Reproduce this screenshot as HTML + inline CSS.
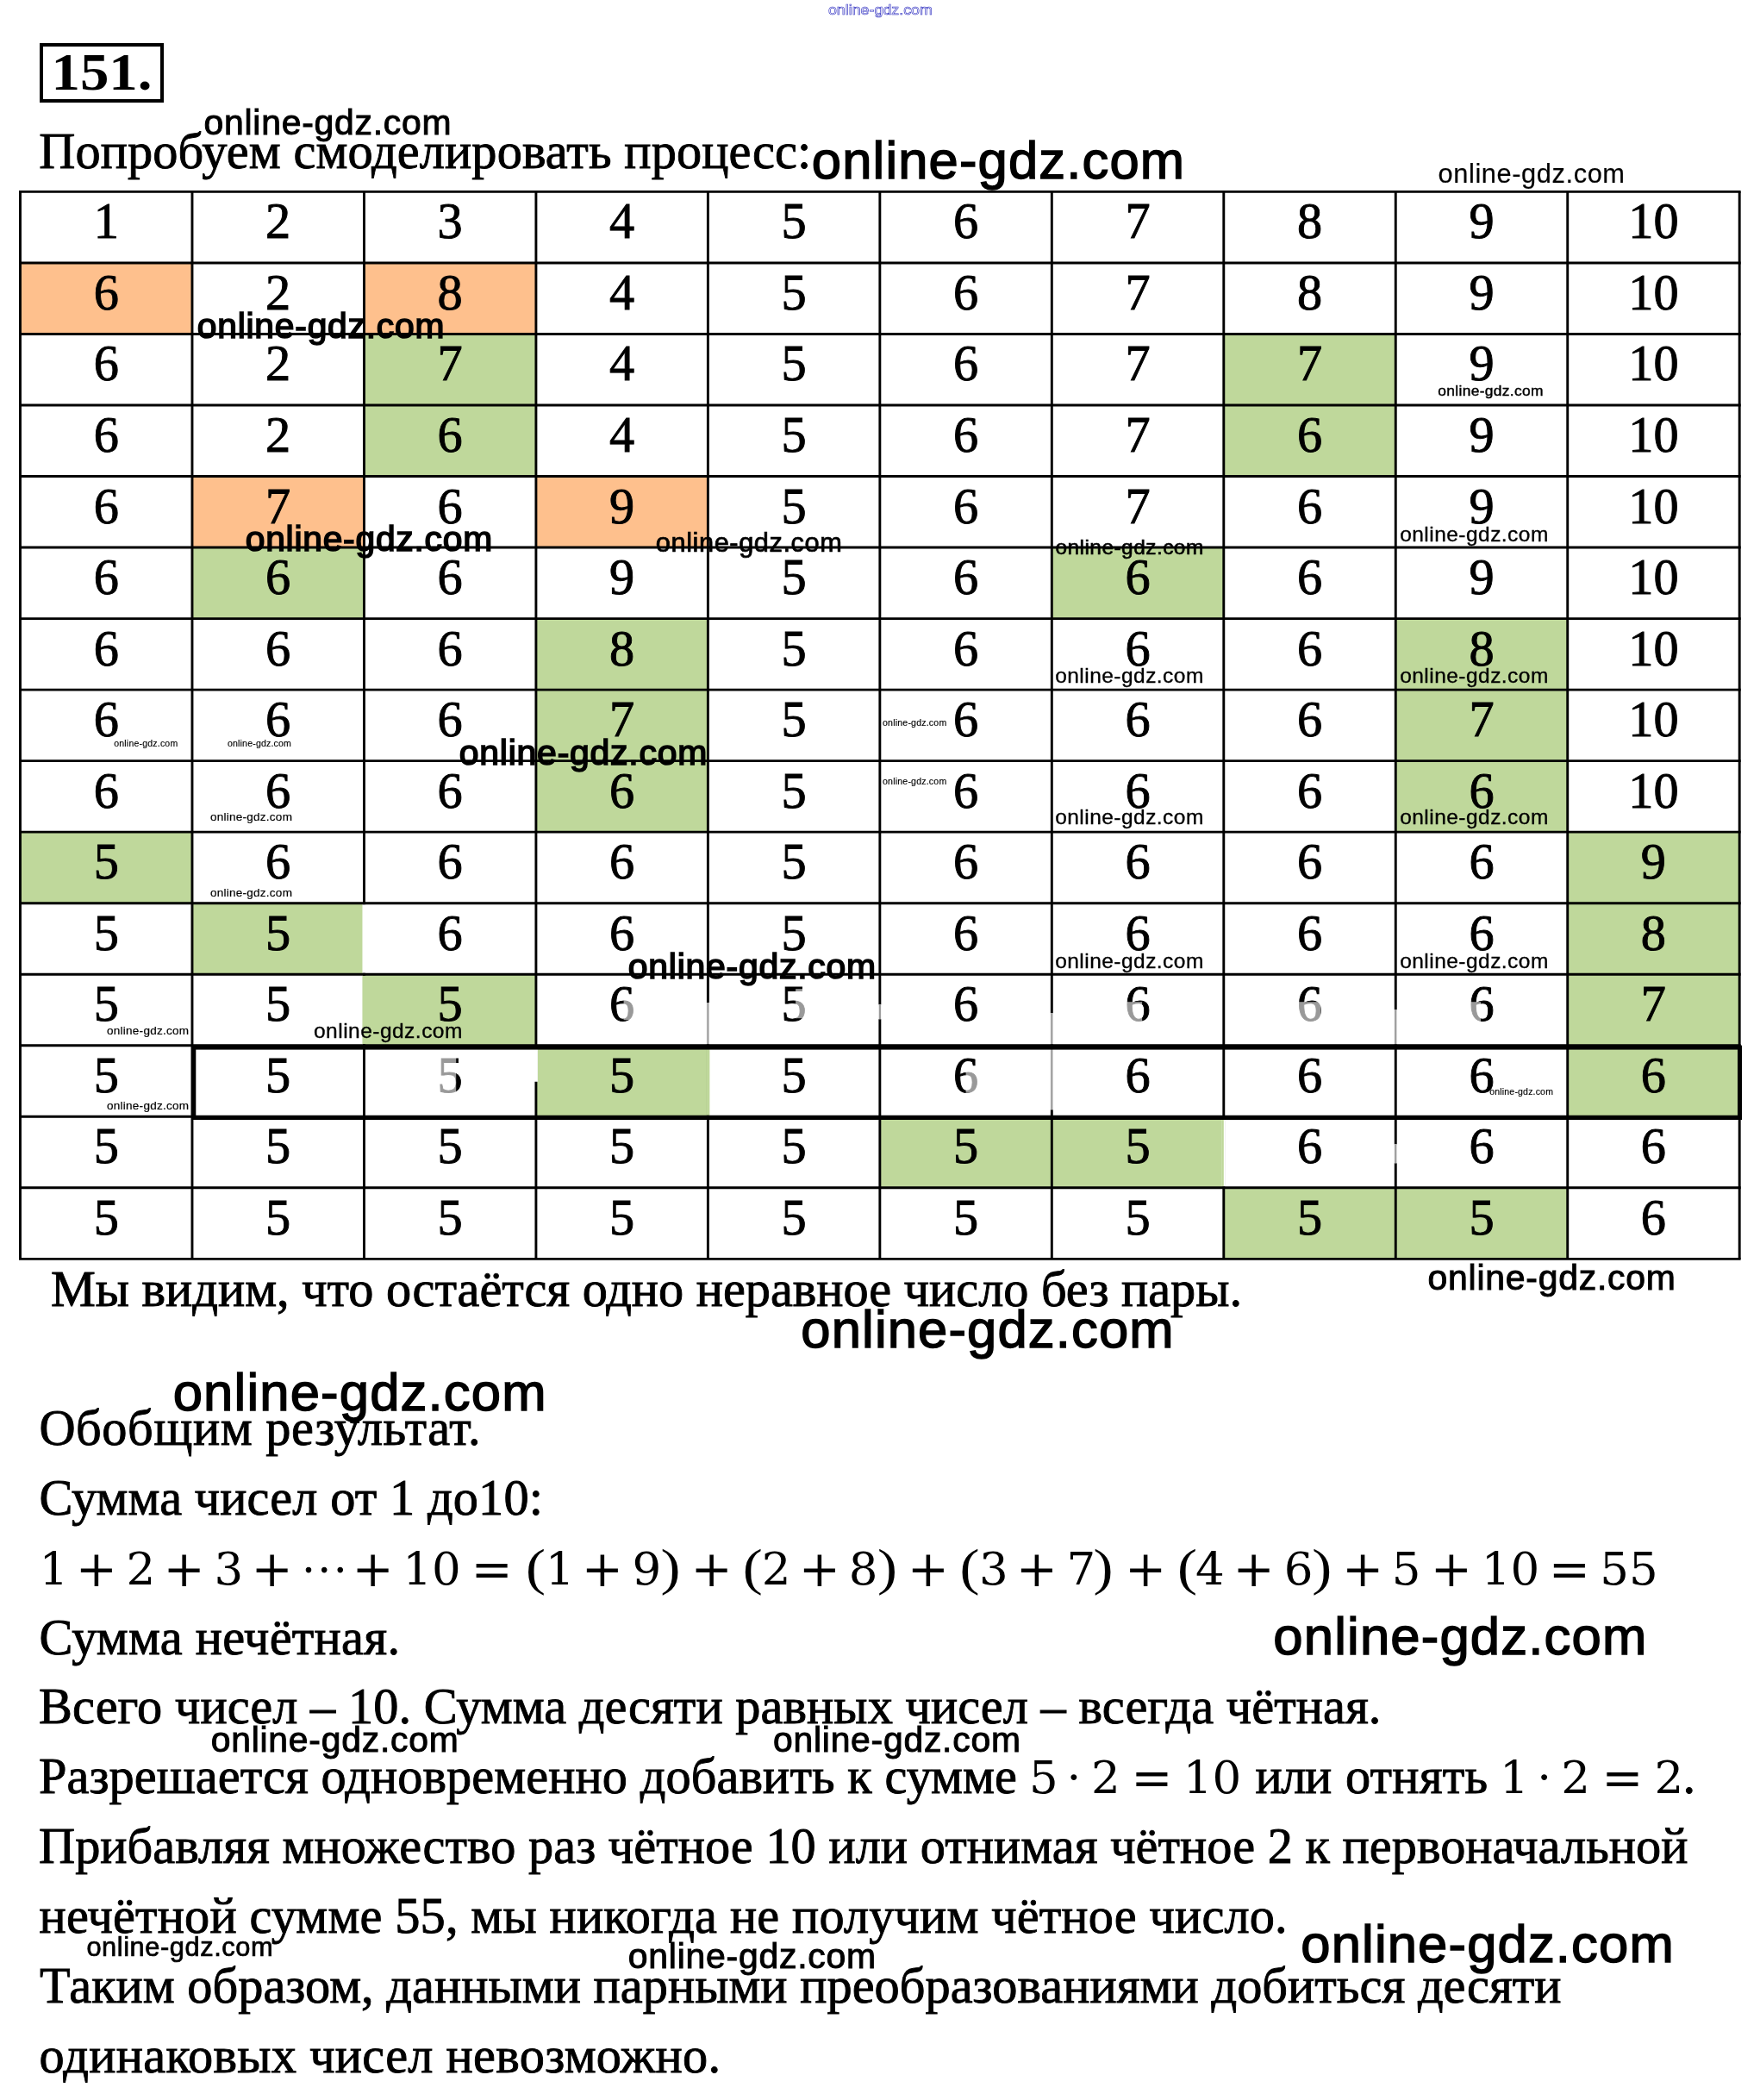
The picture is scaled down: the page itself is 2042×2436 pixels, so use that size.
<!DOCTYPE html>
<html lang="ru"><head><meta charset="utf-8"><title>151</title>
<style>
html,body{margin:0;padding:0;background:#fff}
body{width:2042px;height:2436px;overflow:hidden}
svg{display:block;will-change:transform}
.t{font-family:"Liberation Serif","DejaVu Serif",serif;font-size:58.33px;fill:#000;stroke:#000;stroke-width:0.9px}
.d{font-family:"Liberation Serif","DejaVu Serif",serif;font-size:58.33px;fill:#000;stroke:#000;stroke-width:0.9px;text-anchor:middle}
.m{font-family:"DejaVu Serif","Liberation Serif",serif;fill:#000;text-anchor:middle}
.w{font-family:"Liberation Sans","DejaVu Sans",sans-serif;fill:#000;stroke:#000}
.g{stroke:#000;stroke-width:2.9;fill:none}
</style></head><body>
<svg width="2042" height="2436" viewBox="0 0 2042 2436">
<rect width="2042" height="2436" fill="#fff"/>
<rect x="48" y="52" width="140" height="65" fill="none" stroke="#000" stroke-width="4"/>
<text x="59.5" y="104.4" textLength="117" lengthAdjust="spacingAndGlyphs" style="font-family:'Liberation Serif',serif;font-weight:bold;font-size:60.6px">151.</text>
<rect x="23.50" y="304.93" width="199.47" height="82.53" fill="#FEC08D"/>
<rect x="422.44" y="304.93" width="199.47" height="82.53" fill="#FEC08D"/>
<rect x="422.44" y="387.46" width="199.47" height="82.53" fill="#BFD89B"/>
<rect x="1419.79" y="387.46" width="199.47" height="82.53" fill="#BFD89B"/>
<rect x="422.44" y="469.99" width="199.47" height="82.53" fill="#BFD89B"/>
<rect x="1419.79" y="469.99" width="199.47" height="82.53" fill="#BFD89B"/>
<rect x="222.97" y="552.52" width="199.47" height="82.53" fill="#FEC08D"/>
<rect x="621.91" y="552.52" width="199.47" height="82.53" fill="#FEC08D"/>
<rect x="222.97" y="635.05" width="199.47" height="82.53" fill="#BFD89B"/>
<rect x="1220.32" y="635.05" width="199.47" height="82.53" fill="#BFD89B"/>
<rect x="621.91" y="717.58" width="199.47" height="82.53" fill="#BFD89B"/>
<rect x="1619.26" y="717.58" width="199.47" height="82.53" fill="#BFD89B"/>
<rect x="621.91" y="800.11" width="199.47" height="82.53" fill="#BFD89B"/>
<rect x="1619.26" y="800.11" width="199.47" height="82.53" fill="#BFD89B"/>
<rect x="621.91" y="882.64" width="199.47" height="82.53" fill="#BFD89B"/>
<rect x="1619.26" y="882.64" width="199.47" height="82.53" fill="#BFD89B"/>
<rect x="23.50" y="965.17" width="199.47" height="82.53" fill="#BFD89B"/>
<rect x="1818.73" y="965.17" width="199.47" height="82.53" fill="#BFD89B"/>
<rect x="222.97" y="1047.70" width="199.47" height="82.53" fill="#BFD89B"/>
<rect x="1818.73" y="1047.70" width="199.47" height="82.53" fill="#BFD89B"/>
<rect x="422.44" y="1130.23" width="199.47" height="82.53" fill="#BFD89B"/>
<rect x="1818.73" y="1130.23" width="199.47" height="82.53" fill="#BFD89B"/>
<rect x="621.91" y="1212.76" width="199.47" height="82.53" fill="#BFD89B"/>
<rect x="1818.73" y="1212.76" width="199.47" height="82.53" fill="#BFD89B"/>
<rect x="1020.85" y="1295.29" width="199.47" height="82.53" fill="#BFD89B"/>
<rect x="1220.32" y="1295.29" width="199.47" height="82.53" fill="#BFD89B"/>
<rect x="1419.79" y="1377.82" width="199.47" height="82.53" fill="#BFD89B"/>
<rect x="1619.26" y="1377.82" width="199.47" height="82.53" fill="#BFD89B"/>
<path class="g" d="M23.50 222.40V1460.35M222.97 222.40V1460.35M422.44 222.40V1460.35M621.91 222.40V1460.35M821.38 222.40V1460.35M1020.85 222.40V1460.35M1220.32 222.40V1460.35M1419.79 222.40V1460.35M1619.26 222.40V1460.35M1818.73 222.40V1460.35M2018.20 222.40V1460.35"/>
<rect x="420.44" y="1049.20" width="4.00" height="79.53" fill="#fff"/>
<rect x="420.44" y="1131.73" width="4.00" height="79.53" fill="#BFD89B"/>
<rect x="619.91" y="1215.76" width="4.00" height="39.00" fill="#fff"/>
<rect x="819.38" y="1163.23" width="4.00" height="48.03" fill="#fff"/>
<rect x="820.28" y="1163.23" width="2.2" height="48.03" fill="#9a9a9a"/>
<rect x="819.38" y="1215.76" width="4.00" height="78.03" fill="#BFD89B"/>
<rect x="1218.32" y="1175.23" width="4.00" height="36.03" fill="#fff"/>
<rect x="1219.22" y="1175.23" width="2.2" height="36.03" fill="#9a9a9a"/>
<rect x="1218.32" y="1215.76" width="4.00" height="71.53" fill="#fff"/>
<rect x="1219.22" y="1215.76" width="2.2" height="71.53" fill="#9a9a9a"/>
<rect x="1018.85" y="1165.23" width="4.00" height="17.00" fill="#fff"/>
<rect x="1019.75" y="1165.23" width="2.2" height="17.00" fill="#9a9a9a"/>
<rect x="1417.79" y="1298.29" width="4.00" height="78.03" fill="#fff"/>
<rect x="1417.79" y="1298.29" width="2" height="78.03" fill="#BFD89B"/>
<rect x="1617.26" y="1171.23" width="4.00" height="40.03" fill="#fff"/>
<rect x="1618.16" y="1171.23" width="2.2" height="40.03" fill="#9a9a9a"/>
<rect x="1617.26" y="1327.29" width="4.00" height="22.00" fill="#fff"/>
<rect x="1618.16" y="1327.29" width="2.2" height="22.00" fill="#9a9a9a"/>
<path class="g" d="M22.05 222.40H2019.65M22.05 304.93H2019.65M22.05 387.46H2019.65M22.05 469.99H2019.65M22.05 552.52H2019.65M22.05 635.05H2019.65M22.05 717.58H2019.65M22.05 800.11H2019.65M22.05 882.64H2019.65M22.05 965.17H2019.65M22.05 1047.70H2019.65M22.05 1130.23H2019.65M22.05 1212.76H2019.65M22.05 1295.29H2019.65M22.05 1377.82H2019.65M22.05 1460.35H2019.65"/>
<rect x="224.8" y="1215.1" width="1793.7" height="81.4" fill="none" stroke="#000" stroke-width="5"/>
<text class="d" x="123.23" y="276.40">1</text>
<text class="d" x="322.70" y="276.40">2</text>
<text class="d" x="522.17" y="276.40">3</text>
<text class="d" x="721.64" y="276.40">4</text>
<text class="d" x="921.12" y="276.40">5</text>
<text class="d" x="1120.59" y="276.40">6</text>
<text class="d" x="1320.05" y="276.40">7</text>
<text class="d" x="1519.52" y="276.40">8</text>
<text class="d" x="1718.99" y="276.40">9</text>
<text class="d" x="1918.46" y="276.40">10</text>
<text class="d" x="123.23" y="358.93">6</text>
<text class="d" x="322.70" y="358.93">2</text>
<text class="d" x="522.17" y="358.93">8</text>
<text class="d" x="721.64" y="358.93">4</text>
<text class="d" x="921.12" y="358.93">5</text>
<text class="d" x="1120.59" y="358.93">6</text>
<text class="d" x="1320.05" y="358.93">7</text>
<text class="d" x="1519.52" y="358.93">8</text>
<text class="d" x="1718.99" y="358.93">9</text>
<text class="d" x="1918.46" y="358.93">10</text>
<text class="d" x="123.23" y="441.46">6</text>
<text class="d" x="322.70" y="441.46">2</text>
<text class="d" x="522.17" y="441.46">7</text>
<text class="d" x="721.64" y="441.46">4</text>
<text class="d" x="921.12" y="441.46">5</text>
<text class="d" x="1120.59" y="441.46">6</text>
<text class="d" x="1320.05" y="441.46">7</text>
<text class="d" x="1519.52" y="441.46">7</text>
<text class="d" x="1718.99" y="441.46">9</text>
<text class="d" x="1918.46" y="441.46">10</text>
<text class="d" x="123.23" y="523.99">6</text>
<text class="d" x="322.70" y="523.99">2</text>
<text class="d" x="522.17" y="523.99">6</text>
<text class="d" x="721.64" y="523.99">4</text>
<text class="d" x="921.12" y="523.99">5</text>
<text class="d" x="1120.59" y="523.99">6</text>
<text class="d" x="1320.05" y="523.99">7</text>
<text class="d" x="1519.52" y="523.99">6</text>
<text class="d" x="1718.99" y="523.99">9</text>
<text class="d" x="1918.46" y="523.99">10</text>
<text class="d" x="123.23" y="606.52">6</text>
<text class="d" x="322.70" y="606.52">7</text>
<text class="d" x="522.17" y="606.52">6</text>
<text class="d" x="721.64" y="606.52">9</text>
<text class="d" x="921.12" y="606.52">5</text>
<text class="d" x="1120.59" y="606.52">6</text>
<text class="d" x="1320.05" y="606.52">7</text>
<text class="d" x="1519.52" y="606.52">6</text>
<text class="d" x="1718.99" y="606.52">9</text>
<text class="d" x="1918.46" y="606.52">10</text>
<text class="d" x="123.23" y="689.05">6</text>
<text class="d" x="322.70" y="689.05">6</text>
<text class="d" x="522.17" y="689.05">6</text>
<text class="d" x="721.64" y="689.05">9</text>
<text class="d" x="921.12" y="689.05">5</text>
<text class="d" x="1120.59" y="689.05">6</text>
<text class="d" x="1320.05" y="689.05">6</text>
<text class="d" x="1519.52" y="689.05">6</text>
<text class="d" x="1718.99" y="689.05">9</text>
<text class="d" x="1918.46" y="689.05">10</text>
<text class="d" x="123.23" y="771.58">6</text>
<text class="d" x="322.70" y="771.58">6</text>
<text class="d" x="522.17" y="771.58">6</text>
<text class="d" x="721.64" y="771.58">8</text>
<text class="d" x="921.12" y="771.58">5</text>
<text class="d" x="1120.59" y="771.58">6</text>
<text class="d" x="1320.05" y="771.58">6</text>
<text class="d" x="1519.52" y="771.58">6</text>
<text class="d" x="1718.99" y="771.58">8</text>
<text class="d" x="1918.46" y="771.58">10</text>
<text class="d" x="123.23" y="854.11">6</text>
<text class="d" x="322.70" y="854.11">6</text>
<text class="d" x="522.17" y="854.11">6</text>
<text class="d" x="721.64" y="854.11">7</text>
<text class="d" x="921.12" y="854.11">5</text>
<text class="d" x="1120.59" y="854.11">6</text>
<text class="d" x="1320.05" y="854.11">6</text>
<text class="d" x="1519.52" y="854.11">6</text>
<text class="d" x="1718.99" y="854.11">7</text>
<text class="d" x="1918.46" y="854.11">10</text>
<text class="d" x="123.23" y="936.64">6</text>
<text class="d" x="322.70" y="936.64">6</text>
<text class="d" x="522.17" y="936.64">6</text>
<text class="d" x="721.64" y="936.64">6</text>
<text class="d" x="921.12" y="936.64">5</text>
<text class="d" x="1120.59" y="936.64">6</text>
<text class="d" x="1320.05" y="936.64">6</text>
<text class="d" x="1519.52" y="936.64">6</text>
<text class="d" x="1718.99" y="936.64">6</text>
<text class="d" x="1918.46" y="936.64">10</text>
<text class="d" x="123.23" y="1019.17">5</text>
<text class="d" x="322.70" y="1019.17">6</text>
<text class="d" x="522.17" y="1019.17">6</text>
<text class="d" x="721.64" y="1019.17">6</text>
<text class="d" x="921.12" y="1019.17">5</text>
<text class="d" x="1120.59" y="1019.17">6</text>
<text class="d" x="1320.05" y="1019.17">6</text>
<text class="d" x="1519.52" y="1019.17">6</text>
<text class="d" x="1718.99" y="1019.17">6</text>
<text class="d" x="1918.46" y="1019.17">9</text>
<text class="d" x="123.23" y="1101.70">5</text>
<text class="d" x="322.70" y="1101.70">5</text>
<text class="d" x="522.17" y="1101.70">6</text>
<text class="d" x="721.64" y="1101.70">6</text>
<text class="d" x="921.12" y="1101.70">5</text>
<text class="d" x="1120.59" y="1101.70">6</text>
<text class="d" x="1320.05" y="1101.70">6</text>
<text class="d" x="1519.52" y="1101.70">6</text>
<text class="d" x="1718.99" y="1101.70">6</text>
<text class="d" x="1918.46" y="1101.70">8</text>
<text class="d" x="123.23" y="1184.23">5</text>
<text class="d" x="322.70" y="1184.23">5</text>
<text class="d" x="522.17" y="1184.23">5</text>
<text class="d" x="721.64" y="1184.23">6</text>
<text class="d" x="921.12" y="1184.23">5</text>
<text class="d" x="1120.59" y="1184.23">6</text>
<text class="d" x="1320.05" y="1184.23">6</text>
<text class="d" x="1519.52" y="1184.23">6</text>
<text class="d" x="1718.99" y="1184.23">6</text>
<text class="d" x="1918.46" y="1184.23">7</text>
<text class="d" x="123.23" y="1266.76">5</text>
<text class="d" x="322.70" y="1266.76">5</text>
<text class="d" x="522.17" y="1266.76">5</text>
<text class="d" x="721.64" y="1266.76">5</text>
<text class="d" x="921.12" y="1266.76">5</text>
<text class="d" x="1120.59" y="1266.76">6</text>
<text class="d" x="1320.05" y="1266.76">6</text>
<text class="d" x="1519.52" y="1266.76">6</text>
<text class="d" x="1718.99" y="1266.76">6</text>
<text class="d" x="1918.46" y="1266.76">6</text>
<text class="d" x="123.23" y="1349.29">5</text>
<text class="d" x="322.70" y="1349.29">5</text>
<text class="d" x="522.17" y="1349.29">5</text>
<text class="d" x="721.64" y="1349.29">5</text>
<text class="d" x="921.12" y="1349.29">5</text>
<text class="d" x="1120.59" y="1349.29">5</text>
<text class="d" x="1320.05" y="1349.29">5</text>
<text class="d" x="1519.52" y="1349.29">6</text>
<text class="d" x="1718.99" y="1349.29">6</text>
<text class="d" x="1918.46" y="1349.29">6</text>
<text class="d" x="123.23" y="1431.82">5</text>
<text class="d" x="322.70" y="1431.82">5</text>
<text class="d" x="522.17" y="1431.82">5</text>
<text class="d" x="721.64" y="1431.82">5</text>
<text class="d" x="921.12" y="1431.82">5</text>
<text class="d" x="1120.59" y="1431.82">5</text>
<text class="d" x="1320.05" y="1431.82">5</text>
<text class="d" x="1519.52" y="1431.82">5</text>
<text class="d" x="1718.99" y="1431.82">5</text>
<text class="d" x="1918.46" y="1431.82">6</text>
<rect x="723.6" y="1160.2" width="13.0" height="23.0" fill="#fff" fill-opacity="0.60"/>
<rect x="923.1" y="1147.2" width="13.0" height="34.0" fill="#fff" fill-opacity="0.60"/>
<rect x="1307.1" y="1162.2" width="18.0" height="23.0" fill="#fff" fill-opacity="0.60"/>
<rect x="1506.5" y="1162.2" width="26.0" height="23.0" fill="#fff" fill-opacity="0.60"/>
<rect x="1705.0" y="1162.2" width="13.0" height="23.0" fill="#fff" fill-opacity="0.60"/>
<rect x="509.2" y="1226.8" width="20.0" height="42.0" fill="#fff" fill-opacity="0.60"/>
<rect x="1120.6" y="1236.8" width="15.0" height="31.0" fill="#fff" fill-opacity="0.60"/>
<text class="t" x="45.2" y="194.5" textLength="896.0">Попробуем смоделировать процесс:</text>
<text class="t" x="59.0" y="1515.3" textLength="1382.0">Мы видим, что остаётся одно неравное число без пары.</text>
<text class="t" x="45.4" y="1676.0" textLength="512.2">Обобщим результат.</text>
<text class="t" x="45.4" y="1756.9" textLength="584.5">Сумма чисел от 1 до10:</text>
<text class="t" x="45.4" y="1918.6" textLength="418.6">Сумма нечётная.</text>
<text class="t" x="45.0" y="1999.4" textLength="1557.4">Всего чисел – 10. Сумма десяти равных чисел – всегда чётная.</text>
<text class="t" x="45.0" y="2080.3" textLength="1135.0">Разрешается одновременно добавить к сумме</text>
<text class="t" x="45.0" y="2161.2" textLength="1913.5">Прибавляя множество раз чётное 10 или отнимая чётное 2 к первоначальной</text>
<text class="t" x="45.6" y="2242.0" textLength="1448.0">нечётной сумме 55, мы никогда не получим чётное число.</text>
<text class="t" x="46.0" y="2322.9" textLength="1765.5">Таким образом, данными парными преобразованиями добиться десяти</text>
<text class="t" x="45.5" y="2403.7" textLength="790.5">одинаковых чисел невозможно.</text>
<text class="t" x="1456.6" y="2080.3" style="letter-spacing:-1.5px">или</text>
<text class="t" x="1561" y="2080.3" style="letter-spacing:0.2px">отнять</text>
<text class="t" x="1952.5" y="2080.3">.</text>
<text class="m" x="62.4" y="1838.2" font-size="53.0">1</text>
<text class="m" x="111.9" y="1839.7" font-size="57.6">+</text>
<text class="m" x="163.4" y="1838.2" font-size="53.0">2</text>
<text class="m" x="213.7" y="1839.7" font-size="57.6">+</text>
<text class="m" x="265.4" y="1838.2" font-size="53.0">3</text>
<text class="m" x="315.7" y="1839.7" font-size="57.6">+</text>
<text class="t" x="377.6" y="1837.2" style="text-anchor:middle;letter-spacing:2.45px;font-size:48px">···</text>
<text class="m" x="432.6" y="1839.7" font-size="57.6">+</text>
<text class="m" x="501.1" y="1838.2" font-size="53.0">10</text>
<text class="m" x="570.6" y="1839.7" font-size="57.6">=</text>
<text class="m" transform="translate(621.5 1838.2) scale(1.15 1)" style="font-family:'Liberation Serif',serif" font-size="60">(</text>
<text class="m" x="649.5" y="1838.2" font-size="53.0">1</text>
<text class="m" x="699.0" y="1839.7" font-size="57.6">+</text>
<text class="m" x="750.4" y="1838.2" font-size="53.0">9</text>
<text class="m" transform="translate(778.0 1838.2) scale(1.15 1)" style="font-family:'Liberation Serif',serif" font-size="60">)</text>
<text class="m" x="825.6" y="1839.7" font-size="57.6">+</text>
<text class="m" transform="translate(873.3 1838.2) scale(1.15 1)" style="font-family:'Liberation Serif',serif" font-size="60">(</text>
<text class="m" x="900.6" y="1838.2" font-size="53.0">2</text>
<text class="m" x="951.0" y="1839.7" font-size="57.6">+</text>
<text class="m" x="1001.5" y="1838.2" font-size="53.0">8</text>
<text class="m" transform="translate(1029.5 1838.2) scale(1.15 1)" style="font-family:'Liberation Serif',serif" font-size="60">)</text>
<text class="m" x="1077.0" y="1839.7" font-size="57.6">+</text>
<text class="m" transform="translate(1124.9 1838.2) scale(1.15 1)" style="font-family:'Liberation Serif',serif" font-size="60">(</text>
<text class="m" x="1152.8" y="1838.2" font-size="53.0">3</text>
<text class="m" x="1203.0" y="1839.7" font-size="57.6">+</text>
<text class="m" x="1254.3" y="1838.2" font-size="53.0">7</text>
<text class="m" transform="translate(1280.0 1838.2) scale(1.15 1)" style="font-family:'Liberation Serif',serif" font-size="60">)</text>
<text class="m" x="1329.2" y="1839.7" font-size="57.6">+</text>
<text class="m" transform="translate(1377.4 1838.2) scale(1.15 1)" style="font-family:'Liberation Serif',serif" font-size="60">(</text>
<text class="m" x="1403.8" y="1838.2" font-size="53.0">4</text>
<text class="m" x="1454.6" y="1839.7" font-size="57.6">+</text>
<text class="m" x="1506.6" y="1838.2" font-size="53.0">6</text>
<text class="m" transform="translate(1533.8 1838.2) scale(1.15 1)" style="font-family:'Liberation Serif',serif" font-size="60">)</text>
<text class="m" x="1581.2" y="1839.7" font-size="57.6">+</text>
<text class="m" x="1631.5" y="1838.2" font-size="53.0">5</text>
<text class="m" x="1684.0" y="1839.7" font-size="57.6">+</text>
<text class="m" x="1752.5" y="1838.2" font-size="53.0">10</text>
<text class="m" x="1821.0" y="1839.7" font-size="57.6">=</text>
<text class="m" x="1889.9" y="1838.2" font-size="53.0">55</text>
<text class="m" x="1210.8" y="2080.3" font-size="53.0">5</text>
<text class="m" x="1245.9" y="2080.3" font-size="53.0">·</text>
<text class="m" x="1282.8" y="2080.3" font-size="53.0">2</text>
<text class="m" x="1336.5" y="2081.8" font-size="57.6">=</text>
<text class="m" x="1406.5" y="2080.3" font-size="53.0">10</text>
<text class="m" x="1756.8" y="2080.3" font-size="53.0">1</text>
<text class="m" x="1791.6" y="2080.3" font-size="53.0">·</text>
<text class="m" x="1828.0" y="2080.3" font-size="53.0">2</text>
<text class="m" x="1882.4" y="2081.8" font-size="57.6">=</text>
<text class="m" x="1936.4" y="2080.3" font-size="53.0">2</text>
<text class="w" x="236.5" y="155.5" font-size="40.86" textLength="287.1" stroke-width="0.98">online-gdz.com</text>
<text class="w" x="941.8" y="206.8" font-size="61.54" textLength="432.3" stroke-width="1.48">online-gdz.com</text>
<text class="w" x="1668.6" y="212.2" font-size="30.80" textLength="216.4" stroke-width="0.18">online-gdz.com</text>
<text class="w" x="228.8" y="391.5" font-size="40.79" textLength="286.6" stroke-width="1.63">online-gdz.com</text>
<text class="w" x="1668.3" y="458.6" font-size="17.40" textLength="122.2" stroke-width="0.42">online-gdz.com</text>
<text class="w" x="284.7" y="639.2" font-size="40.76" textLength="286.4" stroke-width="1.63">online-gdz.com</text>
<text class="w" x="760.8" y="640.2" font-size="30.74" textLength="216.0" stroke-width="0.74">online-gdz.com</text>
<text class="w" x="1224.4" y="643.3" font-size="24.47" textLength="171.9" stroke-width="0.59">online-gdz.com</text>
<text class="w" x="1624.2" y="627.6" font-size="24.50" textLength="172.1" stroke-width="0.34">online-gdz.com</text>
<text class="w" x="1224.2" y="791.7" font-size="24.50" textLength="172.1" stroke-width="0.34">online-gdz.com</text>
<text class="w" x="1624.2" y="791.7" font-size="24.50" textLength="172.1" stroke-width="0.34">online-gdz.com</text>
<text class="w" x="132.2" y="865.7" font-size="10.54" textLength="74.0" stroke-width="0.15">online-gdz.com</text>
<text class="w" x="263.9" y="865.7" font-size="10.54" textLength="74.0" stroke-width="0.15">online-gdz.com</text>
<text class="w" x="1024.0" y="841.7" font-size="10.57" textLength="74.2" stroke-width="0.15">online-gdz.com</text>
<text class="w" x="1024.0" y="909.7" font-size="10.57" textLength="74.2" stroke-width="0.15">online-gdz.com</text>
<text class="w" x="532.8" y="887.3" font-size="40.92" textLength="287.5" stroke-width="1.64">online-gdz.com</text>
<text class="w" x="244.0" y="951.5" font-size="13.52" textLength="94.9" stroke-width="0.19">online-gdz.com</text>
<text class="w" x="1224.2" y="955.6" font-size="24.50" textLength="172.1" stroke-width="0.34">online-gdz.com</text>
<text class="w" x="1624.2" y="955.6" font-size="24.50" textLength="172.1" stroke-width="0.34">online-gdz.com</text>
<text class="w" x="244.0" y="1039.5" font-size="13.52" textLength="94.9" stroke-width="0.19">online-gdz.com</text>
<text class="w" x="728.7" y="1135.1" font-size="40.92" textLength="287.5" stroke-width="1.64">online-gdz.com</text>
<text class="w" x="1224.2" y="1123.3" font-size="24.50" textLength="172.1" stroke-width="0.34">online-gdz.com</text>
<text class="w" x="1624.2" y="1123.3" font-size="24.50" textLength="172.1" stroke-width="0.34">online-gdz.com</text>
<text class="w" x="124.0" y="1199.6" font-size="13.53" textLength="95.0" stroke-width="0.19">online-gdz.com</text>
<text class="w" x="364.0" y="1203.5" font-size="24.54" textLength="172.4" stroke-width="0.34">online-gdz.com</text>
<text class="w" x="124.0" y="1286.9" font-size="13.53" textLength="95.0" stroke-width="0.19">online-gdz.com</text>
<text class="w" x="1728.2" y="1269.7" font-size="10.50" textLength="73.7" stroke-width="0.15">online-gdz.com</text>
<text class="w" x="1656.5" y="1495.5" font-size="40.91" textLength="287.4" stroke-width="0.98">online-gdz.com</text>
<text class="w" x="929.3" y="1562.7" font-size="61.54" textLength="432.3" stroke-width="1.48">online-gdz.com</text>
<text class="w" x="200.7" y="1635.6" font-size="61.61" textLength="432.8" stroke-width="1.48">online-gdz.com</text>
<text class="w" x="1477.3" y="1919.4" font-size="61.64" textLength="433.0" stroke-width="1.48">online-gdz.com</text>
<text class="w" x="244.7" y="2031.5" font-size="40.85" textLength="287.0" stroke-width="0.98">online-gdz.com</text>
<text class="w" x="897.0" y="2031.5" font-size="40.83" textLength="286.9" stroke-width="0.98">online-gdz.com</text>
<text class="w" x="100.4" y="2268.6" font-size="30.77" textLength="216.2" stroke-width="0.74">online-gdz.com</text>
<text class="w" x="728.7" y="2283.3" font-size="40.92" textLength="287.5" stroke-width="0.98">online-gdz.com</text>
<text class="w" x="1509.3" y="2275.5" font-size="61.55" textLength="432.4" stroke-width="1.48">online-gdz.com</text>
<text x="960.9" y="17.3" font-size="16.5" textLength="121" lengthAdjust="spacingAndGlyphs" style="font-family:'Liberation Sans',sans-serif;fill:#fff;stroke:#3a3ac4;stroke-width:0.65">online-gdz.com</text>
</svg></body></html>
